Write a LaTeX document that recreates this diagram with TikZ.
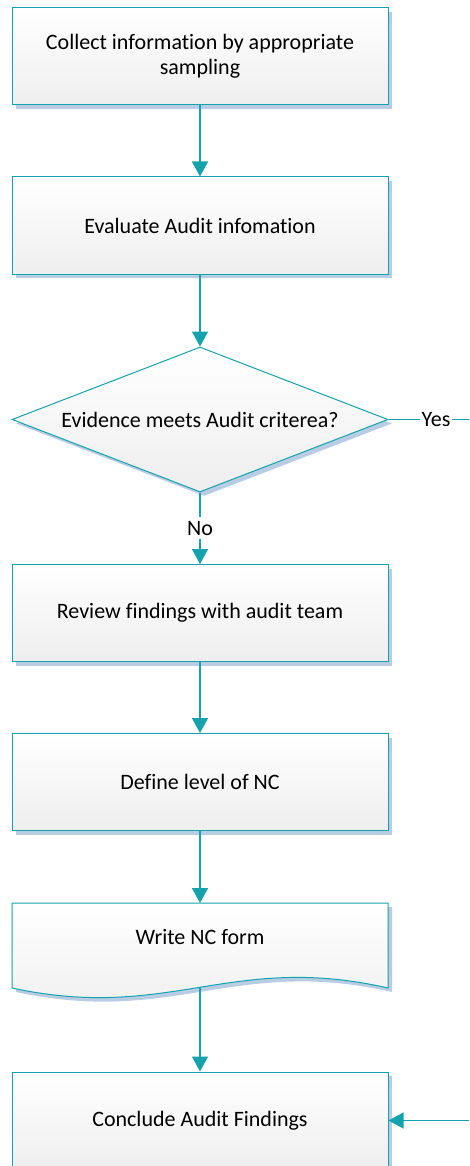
\documentclass[tikz,border=0pt]{standalone}
\usepackage{fontspec}
\setmainfont{Carlito}[Ligatures=NoCommon]
\usetikzlibrary{shapes.geometric,shadows,arrows.meta}
\definecolor{teal1}{RGB}{20,163,173}
\definecolor{shadowblue}{RGB}{184,204,228}
\definecolor{fillgray}{RGB}{238,238,238}
\begin{document}
\begin{tikzpicture}[x=1pt,y=-1pt,
  txt/.style={font=\fontsize{22}{25}\selectfont},
  shad/.style={drop shadow={shadow xshift=4pt, shadow yshift=-4pt, fill=shadowblue, opacity=1}},
  proc/.style={rectangle, draw=teal1, line width=1pt, top color=white, bottom color=fillgray,
    minimum width=376pt, minimum height=97pt, inner sep=0pt, align=center, txt, shad},
  decision/.style={diamond, draw=teal1, line width=1pt, top color=white, bottom color=fillgray,
    minimum width=376pt, minimum height=145pt, inner sep=0pt, aspect=2.6, align=center, txt, shad},
  docshape/.style={draw=teal1, line width=1pt, top color=white, bottom color=fillgray, shad},
  conn/.style={draw=teal1, line width=1.5pt, -{Triangle[width=16pt,length=15pt]}},
  lbl/.style={fill=white, inner xsep=2pt, inner ysep=4pt, txt}]
\useasboundingbox (0,0) rectangle (469,1166);
\clip (0,0) rectangle (469,1166);
\node[proc] (b1) at (200,56.5) {Collect information by appropriate\\sampling};
\node[proc] (b2) at (200,225.5) {Evaluate Audit infomation};
\node[decision] (d) at (200,419.5) {Evidence meets Audit criterea?};
\node[proc] (b3) at (200,613) {Review findings with audit team};
\node[proc] (b4) at (200,782) {Define level of NC};
\path[docshape] (12,903) -- (388,903) -- (388,988) .. controls (230,952) and (170,1022) .. (12,988) coordinate[pos=0.5] (docb) -- cycle;
\coordinate (doct) at (200,903);
\node[txt] (doc) at (200,937) {Write NC form};
\node[proc] (b5) at (200,1120.5) {Conclude Audit Findings};
\coordinate (yr) at (480,419.5);
\draw[conn] (b1.south) -- (b2.north);
\draw[conn] (b2.south) -- (d.north);
\draw[conn] (d.south) -- node[lbl]{No} (b3.north);
\draw[conn] (b3.south) -- (b4.north);
\draw[conn] (b4.south) -- (doct);
\draw[conn] (docb) -- (b5.north);
\draw[conn] (d.east) -- node[lbl, pos=0.52]{Yes} (yr) |- (b5.east);
\end{tikzpicture}
\end{document}
